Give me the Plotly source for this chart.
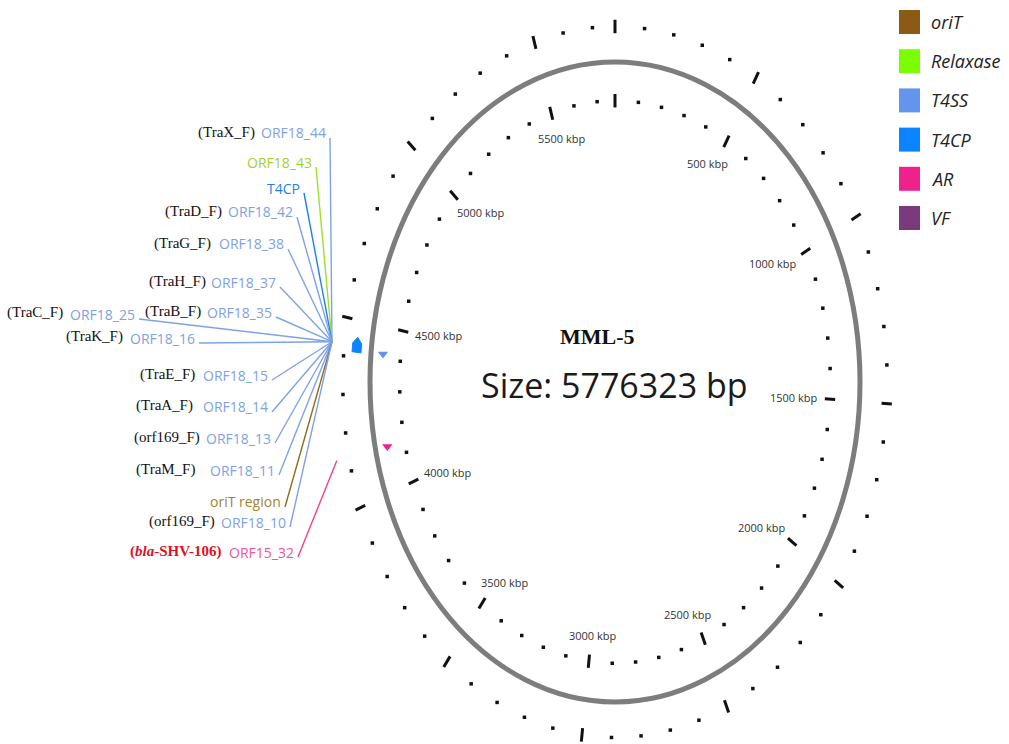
import math
import plotly.graph_objects as go

# ---- genome ----
GENOME_NAME = "MML-5"
GENOME_BP = 5776323
MINOR_STEP_KBP = 100
MAJOR_EVERY = 5            # one labelled tick every 500 kbp

# ---- legend categories ----
LEGEND_NAMES = ["oriT", "Relaxase", "T4SS", "T4CP", "AR", "VF"]
LEGEND_COLORS = ["#8b5a14", "#7cfc00", "#6495ed", "#0a84ff", "#f0208c", "#7b3a7e"]

# ---- mapped features (position in kbp) ----
FEATURE_KBP = [4432, 4417, 4136]
FEATURE_CAT = ["T4CP", "T4SS", "AR"]
FEATURE_STRAND = ["+", "-", "-"]

# ---- gene labels ----
LABEL_TEXT = ["ORF18_44", "ORF18_43", "T4CP", "ORF18_42", "ORF18_38", "ORF18_37",
              "ORF18_35", "ORF18_25", "ORF18_16", "ORF18_15", "ORF18_14", "ORF18_13",
              "ORF18_11", "oriT region", "ORF18_10", "ORF15_32"]
LABEL_CAT = ["T4SS", "Relaxase", "T4CP", "T4SS", "T4SS", "T4SS",
             "T4SS", "T4SS", "T4SS", "T4SS", "T4SS", "T4SS",
             "T4SS", "oriT", "T4SS", "AR"]
LABEL_GENE = ["(TraX_F)", "", "", "(TraD_F)", "(TraG_F)", "(TraH_F)",
              "(TraB_F)", "(TraC_F)", "(TraK_F)", "(TraE_F)", "(TraA_F)", "(orf169_F)",
              "(TraM_F)", "", "(orf169_F)", "(<i>bla</i>-SHV-106)"]
LABEL_TARGET_KBP = [4432] * 15 + [4136]

# ---- label layout (pixels) ----
LABEL_RIGHT_PX = [328, 314, 302, 295, 286, 278, 274, 137, 197, 270, 270, 273, 277, 283, 288, 296]
LABEL_Y_PX = [133, 162, 188, 212, 244, 282, 312, 314, 338, 375, 407, 438, 470, 502, 522, 552]
GENE_RIGHT_PX = [257, 0, 0, 224, 213, 208, 203, 65, 125, 197, 195, 202, 197, 0, 217, 223]

LABEL_TEXT_COLORS = {"T4SS": "#7ea2e4", "T4CP": "#1f80ea", "Relaxase": "#9fd22e",
                     "oriT": "#a08436", "AR": "#f0559c"}
LINE_COLORS = {"T4SS": "#7ea2e8", "T4CP": "#1f80ea", "Relaxase": "#9fe02a",
               "oriT": "#8f6d1c", "AR": "#f0408e"}

# ---- geometry ----
W, H = 1009, 744
CX, CY, RX, RY = 615, 382, 245, 320
R_RING = 1.0
R_INNER_TICK = 0.879
R_OUTER_TICK = 1.111
TICK_HALF = 0.021
R_TICK_LABEL = 0.82
R_FWD = 1.059
R_REV = 0.951
R_HUB = 1.162

cat_color = dict(zip(LEGEND_NAMES, LEGEND_COLORS))


def theta(kbp):
    return 2 * math.pi * kbp * 1000.0 / GENOME_BP


def polar(kbp, r):
    t = theta(kbp)
    return r * math.sin(t), r * math.cos(t)


def px_to_data(px, py):
    return (px - CX) / RX, (CY - py) / RY


def px_to_paper(px, py):
    return px / W, 1 - py / H


fig = go.Figure()

# backbone ring
fig.add_shape(type="circle", xref="x", yref="y", x0=-R_RING, x1=R_RING, y0=-R_RING, y1=R_RING,
              line=dict(color="#7d7d7d", width=5), layer="below")

# scale ticks on both sides of the ring
n_ticks = int(GENOME_BP / 1000 // MINOR_STEP_KBP) + 1
major_x, major_y, minor_x, minor_y = [], [], [], []
for i in range(n_ticks):
    kbp = i * MINOR_STEP_KBP
    if kbp * 1000 >= GENOME_BP:
        break
    for rc in (R_INNER_TICK, R_OUTER_TICK):
        if i % MAJOR_EVERY == 0:
            x0, y0 = polar(kbp, rc - TICK_HALF)
            x1, y1 = polar(kbp, rc + TICK_HALF)
            major_x += [x0, x1, None]
            major_y += [y0, y1, None]
        else:
            x0, y0 = polar(kbp, rc)
            minor_x.append(x0)
            minor_y.append(y0)

fig.add_trace(go.Scatter(x=major_x, y=major_y, mode="lines",
                         line=dict(color="#111111", width=3), hoverinfo="skip", showlegend=False))
fig.add_trace(go.Scatter(x=minor_x, y=minor_y, mode="markers",
                         marker=dict(color="#111111", size=3.5, symbol="square"),
                         hoverinfo="skip", showlegend=False))

# tick labels (inside)
for i in range(MAJOR_EVERY, n_ticks, MAJOR_EVERY):
    kbp = i * MINOR_STEP_KBP
    t = theta(kbp)
    x, y = polar(kbp, R_TICK_LABEL)
    fig.add_annotation(x=x, y=y, xref="x", yref="y", text=f"{kbp} kbp", showarrow=False,
                       xanchor="center", yanchor="middle",
                       xshift=-math.sin(t) * 22, yshift=-math.cos(t) * 7,
                       font=dict(family="Open Sans", size=11, color="#333333"))

# features
for kbp, cat, strand in zip(FEATURE_KBP, FEATURE_CAT, FEATURE_STRAND):
    col = cat_color[cat]
    if strand == "+":
        t = theta(kbp)
        cx, cy = polar(kbp, R_FWD)
        cpx, cpy = CX + cx * RX, CY - cy * RY
        # pixel-space directions (screen y downward)
        rv = (RX * math.sin(t), -RY * math.cos(t))
        n = math.hypot(*rv)
        rv = (rv[0] / n, rv[1] / n)
        tv = (RX * math.cos(t), RY * math.sin(t))
        n = math.hypot(*tv)
        tv = (tv[0] / n, tv[1] / n)
        local = [(-7, -4.5), (2, -4.5), (8, 0), (2, 4.5), (-7, 4.5), (-7, -4.5)]
        xs, ys = [], []
        for u, v in local:
            px = cpx + u * tv[0] + v * rv[0]
            py = cpy + u * tv[1] + v * rv[1]
            dx, dy = px_to_data(px, py)
            xs.append(dx)
            ys.append(dy)
        fig.add_trace(go.Scatter(x=xs, y=ys, mode="lines", fill="toself", fillcolor=col,
                                 line=dict(color=col, width=1), hoverinfo="skip", showlegend=False))
    else:
        x, y = polar(kbp, R_REV)
        fig.add_trace(go.Scatter(x=[x], y=[y], mode="markers",
                                 marker=dict(symbol="triangle-down", size=9, color=col),
                                 hoverinfo="skip", showlegend=False))

# gene labels and leader lines
for txt, cat, gene, tk, rpx, ypx, gpx in zip(LABEL_TEXT, LABEL_CAT, LABEL_GENE, LABEL_TARGET_KBP,
                                            LABEL_RIGHT_PX, LABEL_Y_PX, GENE_RIGHT_PX):
    sx, sy = px_to_data(rpx + 2, ypx + 5)
    ex, ey = polar(tk, R_HUB)
    fig.add_trace(go.Scatter(x=[sx, ex], y=[sy, ey], mode="lines",
                             line=dict(color=LINE_COLORS[cat], width=1.4),
                             hoverinfo="skip", showlegend=False))
    ax, ay = px_to_paper(rpx, ypx)
    fig.add_annotation(x=ax, y=ay, xref="paper", yref="paper", text=txt, showarrow=False,
                       xanchor="right", yanchor="middle",
                       font=dict(family="Open Sans", size=14, color=LABEL_TEXT_COLORS[cat]))
    if gene:
        gx, gy = px_to_paper(gpx, ypx - 1)
        if cat == "AR":
            gtxt = f"<b>{gene}</b>"
            gcol = "#e0101e"
        else:
            gtxt = gene
            gcol = "#111111"
        fig.add_annotation(x=gx, y=gy, xref="paper", yref="paper", text=gtxt, showarrow=False,
                           xanchor="right", yanchor="middle",
                           font=dict(family="Liberation Serif", size=15, color=gcol))

# centre title
tx, ty = px_to_data(597, 336)
fig.add_annotation(x=tx, y=ty, xref="x", yref="y", text=f"<b>{GENOME_NAME}</b>", showarrow=False,
                   font=dict(family="Liberation Serif", size=22, color="#111111"))
tx, ty = px_to_data(614, 385)
fig.add_annotation(x=tx, y=ty, xref="x", yref="y", text=f"Size: {GENOME_BP} bp", showarrow=False,
                   font=dict(family="Open Sans", size=34, color="#1a1a1a"))

# legend
LEG_X0, LEG_X1, LEG_TOP, LEG_STEP, LEG_BOX = 899, 920, 10, 39.2, 24
for k, (name, col) in enumerate(zip(LEGEND_NAMES, LEGEND_COLORS)):
    top = LEG_TOP + k * LEG_STEP
    x0, y1 = px_to_paper(LEG_X0, top)
    x1, y0 = px_to_paper(LEG_X1, top + LEG_BOX)
    fig.add_shape(type="rect", xref="paper", yref="paper", x0=x0, x1=x1, y0=y0, y1=y1,
                  fillcolor=col, line=dict(width=0))
    lx, ly = px_to_paper(929, top + LEG_BOX / 2)
    fig.add_annotation(x=lx, y=ly, xref="paper", yref="paper", text=f"<i>{name}</i>",
                       showarrow=False, xanchor="left", yanchor="middle",
                       font=dict(family="Open Sans", size=18, color="#222222"))

fig.update_layout(
    width=W, height=H,
    margin=dict(l=0, r=0, t=0, b=0),
    paper_bgcolor="white", plot_bgcolor="white",
    showlegend=False,
    xaxis=dict(range=[(0 - CX) / RX, (W - CX) / RX], visible=False, fixedrange=True),
    yaxis=dict(range=[(CY - H) / RY, CY / RY], visible=False, fixedrange=True),
)

fig.write_html("out.html", config={"displayModeBar": False})
